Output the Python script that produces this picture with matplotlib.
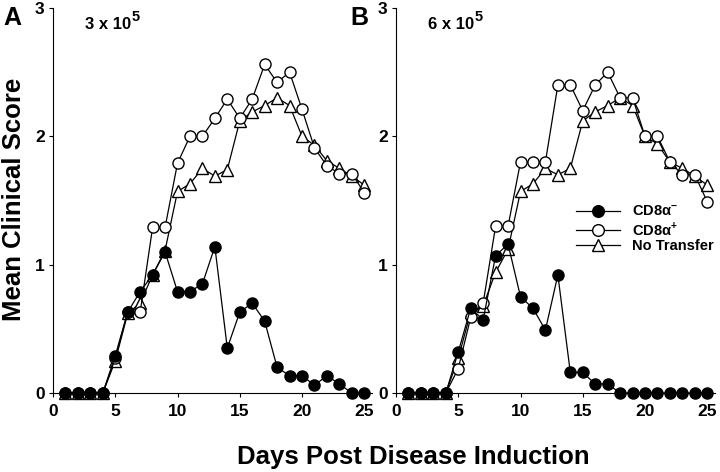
import matplotlib
matplotlib.use('Agg')
import matplotlib.pyplot as plt

plt.rcParams['font.family'] = ['Liberation Sans', 'DejaVu Sans']
plt.rcParams['font.weight'] = 'bold'
plt.rcParams['mathtext.fontset'] = 'custom'
plt.rcParams['mathtext.rm'] = 'Liberation Sans:bold'
plt.rcParams['mathtext.bf'] = 'Liberation Sans:bold'

days = list(range(1, 26))

# panel A, 3 x 10^5 cells
a_neg = [0, 0, 0, 0, 0.29, 0.63, 0.79, 0.92, 1.10, 0.79, 0.79, 0.85, 1.14,
         0.35, 0.63, 0.70, 0.56, 0.20, 0.135, 0.135, 0.06, 0.135, 0.07, 0, 0]
a_pos = [0, 0, 0, 0, 0.27, 0.63, 0.63, 1.29, 1.29, 1.79, 2.0, 2.0, 2.14,
         2.29, 2.14, 2.29, 2.56, 2.42, 2.50, 2.21, 1.91, 1.77, 1.71, 1.71, 1.56]
a_none = [0, 0, 0, 0, 0.25, 0.62, 0.70, 0.92, 1.11, 1.57, 1.63, 1.75, 1.69,
          1.74, 2.12, 2.19, 2.24, 2.30, 2.24, 2.0, 1.93, 1.81, 1.75, 1.69, 1.62]

# panel B, 6 x 10^5 cells
b_neg = [0, 0, 0, 0, 0.32, 0.66, 0.57, 1.07, 1.16, 0.75, 0.66, 0.49, 0.92,
         0.16, 0.16, 0.07, 0.07, 0, 0, 0, 0, 0, 0, 0, 0]
b_pos = [0, 0, 0, 0, 0.19, 0.59, 0.70, 1.30, 1.30, 1.80, 1.80, 1.80, 2.40,
         2.40, 2.20, 2.40, 2.50, 2.30, 2.30, 2.0, 2.0, 1.80, 1.70, 1.70, 1.49]
b_none = [0, 0, 0, 0, 0.27, 0.63, 0.68, 0.94, 1.12, 1.57, 1.63, 1.75, 1.70,
          1.75, 2.12, 2.19, 2.24, 2.30, 2.24, 2.0, 1.94, 1.80, 1.75, 1.69, 1.62]

labels = ['CD8\u03b1$^{-}$', 'CD8\u03b1$^{+}$', 'No Transfer']


def draw_panel(ax, neg, pos, none, dose):
    kw = dict(color='black', linewidth=0.9, markersize=8, markeredgewidth=1.0,
              clip_on=False)
    ax.plot(days, neg, marker='o', markerfacecolor='black', zorder=4,
            label=labels[0], **kw)
    ax.plot(days, pos, marker='o', markerfacecolor='white', zorder=3,
            label=labels[1], **kw)
    ax.plot(days, none, marker='^', markerfacecolor='white', zorder=2,
            label=labels[2], **kw)
    ax.set_xlim(0, 25.6)
    ax.set_ylim(0, 3)
    ax.set_xticks([0, 5, 10, 15, 20, 25])
    ax.set_yticks([0, 1, 2, 3])
    ax.spines['top'].set_visible(False)
    ax.spines['right'].set_visible(False)
    ax.tick_params(axis='both', direction='out', length=3, width=0.8, labelsize=12.5)
    ax.tick_params(axis='x', pad=5)
    ax.tick_params(axis='y', pad=3)
    for t in ax.get_xticklabels() + ax.get_yticklabels():
        t.set_fontweight('bold')
    # dose label with a large superscript
    t = ax.text(2.6, 2.84, dose + ' x 10', fontsize=12, fontweight='bold')
    ax.annotate('5', xy=(1, 0.95), xycoords=t, ha='left', va='center',
                fontsize=10.5, fontweight='bold')


fig = plt.figure(figsize=(7.2, 4.72), dpi=100)
ax1 = fig.add_axes([0.0736, 0.1674, 0.4427, 0.8157])
ax2 = fig.add_axes([0.55, 0.1674, 0.4427, 0.8157])

draw_panel(ax1, a_neg, a_pos, a_none, '3')
draw_panel(ax2, b_neg, b_pos, b_none, '6')

ax2.legend(loc='upper left', bbox_to_anchor=(0.565, 0.49), frameon=False,
           fontsize=10.5, handlelength=3.0, handletextpad=0.85,
           labelspacing=0.08, borderpad=0, borderaxespad=0, markerscale=1.05)

fig.text(3 / 720, 1 - 25 / 472, 'A', fontsize=18, fontweight='bold', va='baseline')
fig.text(350 / 720, 1 - 25 / 472, 'B', fontsize=18, fontweight='bold', va='baseline')
fig.text(14 / 720, 1 - 199 / 472, 'Mean Clinical Score', rotation=90, fontsize=18.5,
         fontweight='bold', ha='center', va='center')
fig.text(413 / 720, 1 - 464 / 472, 'Days Post Disease Induction', fontsize=18.5,
         fontweight='bold', ha='center', va='baseline')

fig.savefig('out.png', dpi=100)
